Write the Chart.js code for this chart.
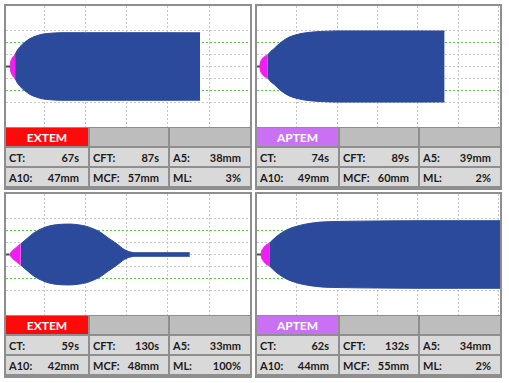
<!DOCTYPE html>
<html><head><meta charset="utf-8">
<script src="https://cdn.jsdelivr.net/npm/chart.js@4"></script>
<style>
html,body{margin:0;padding:0;background:#fff;width:509px;height:383px;overflow:hidden;font-family:Lato,"Open Sans",sans-serif;}
.panel{position:absolute;box-sizing:border-box;border:2px solid #8e8e8e;background:#8e8e8e;}
.plot{position:relative;background:#fff;height:121px;}
.tbl{display:grid;row-gap:2px;column-gap:2px;margin-top:1px;grid-template-rows:18px 18px 18px;}
.cell{background:#d9d9d9;display:flex;justify-content:space-between;align-items:center;padding:0 9px 0 3px;font-weight:700;font-size:11px;color:#1c1c1c;}
.hd{background:#bdbdbd;}
.name{justify-content:center;color:#fff;font-size:12px;padding:0;}
</style></head>
<body>
<script>
// ---------- data ----------
const panelNames = ["EXTEM", "APTEM", "EXTEM", "APTEM"];
const ctValues  = ["67s", "74s", "59s", "62s"];
const cftValues = ["87s", "89s", "130s", "132s"];
const a5Values  = ["38mm", "39mm", "33mm", "34mm"];
const a10Values = ["47mm", "49mm", "42mm", "44mm"];
const mcfValues = ["57mm", "60mm", "48mm", "55mm"];
const mlValues  = ["3%", "2%", "100%", "2%"];
const gridMinutes = [10, 20, 30, 40, 50, 60];
const gridAmplitudes = [-30, -20, -10, 0, 10, 20, 30];

// time in minutes, clot amplitude (full width) in mm
const extemTopTime = [1.7, 1.8, 2.0, 2.3, 2.9, 3.4, 4.1, 5.2, 6.5, 8.0, 9.5, 11.4, 14, 20, 30, 40, 47.8];
const extemTopAmp  = [0, 7, 11, 15.5, 20, 27, 33.5, 40.5, 47, 51.5, 54.5, 56, 57, 57, 57, 57, 56.8];
const extemTopCfEnd = 2.9;

const aptemTopTime = [0.9, 1.0, 1.3, 1.8, 2.9, 3.6, 4.4, 5.8, 7.7, 9.6, 11.8, 13.8, 15.9, 20, 30, 40, 46.6];
const aptemTopAmp  = [0, 6, 11, 15.5, 20, 25.5, 30, 39, 48, 53, 56.3, 58, 59, 60, 60, 60, 59.8];
const aptemTopCfEnd = 2.9;

const extemBotTime = [1.5, 2.2, 3.2, 4.3, 5.8, 7.35, 9.3, 11.4, 13.8, 16.2, 18.3, 20.3, 22, 23.5, 25.5, 27.6, 29.5, 31.3, 32.5, 45.3];
const extemBotAmp  = [0, 6, 12, 18, 27, 36, 43.5, 48.5, 50.8, 51.3, 50, 47.4, 43, 38, 28, 18, 8, 3.5, 3, 3];
const extemBotCfEnd = 4.3;

const aptemBotTime = [1.2, 1.3, 1.7, 2.3, 3.4, 4.3, 5.5, 7.7, 9.7, 11.8, 13.8, 15.9, 20, 30, 40, 50, 61];
const aptemBotAmp  = [0, 5, 10, 15, 20, 26, 33, 42, 47, 50.7, 53, 54.6, 55.7, 56.5, 57, 57, 57];
const aptemBotCfEnd = 3.4;

// ---------- styling / layout ----------
const BLUE = '#2c4a9b', MAG = '#f01ef0', BASE = '#3d5a3d';
const nameBg = {EXTEM: '#ff0a0a', APTEM: '#c970f5'};
const layout = [
  {left: 4, top: 4, w: 248, cols: '82px 78px 80px', xr: [0.7, 59.9]},
  {left: 255, top: 4, w: 247, cols: '81px 78px 80px', xr: [0.2, 60.3]},
  {left: 4, top: 192, w: 248, cols: '82px 78px 80px', xr: [0.7, 59.9]},
  {left: 255, top: 192, w: 247, cols: '81px 78px 80px', xr: [0.2, 60.3]}
];
const curves = [
  [extemTopTime, extemTopAmp, extemTopCfEnd],
  [aptemTopTime, aptemTopAmp, aptemTopCfEnd],
  [extemBotTime, extemBotAmp, extemBotCfEnd],
  [aptemBotTime, aptemBotAmp, aptemBotCfEnd]
];

function cell(label, value, cls) {
  const d = document.createElement('div');
  d.className = 'cell' + (cls ? ' ' + cls : '');
  if (label !== null) {
    const a = document.createElement('span'); a.textContent = label;
    const b = document.createElement('span'); b.textContent = value;
    d.appendChild(a); d.appendChild(b);
  }
  return d;
}

function makeChart(canvas, time, amp, cfEnd, xr) {
  const pts = time.map((t, i) => ({t: t, a: amp[i]}));
  const mag = pts.filter(p => p.t <= cfEnd);
  const blue = pts.filter(p => p.t >= cfEnd);
  const up = arr => arr.map(p => ({x: p.t, y: p.a / 2}));
  const dn = arr => arr.map(p => ({x: p.t, y: -p.a / 2}));
  const common = {pointRadius: 0, borderWidth: 1, cubicInterpolationMode: 'monotone'};
  new Chart(canvas, {
    type: 'line',
    data: {datasets: [
      Object.assign({}, common, {data: [{x: xr[0] - 1, y: 0}, {x: time[0], y: 0}], borderColor: BASE, borderWidth: 2, fill: false}),
      Object.assign({}, common, {data: up(mag), borderColor: MAG, backgroundColor: MAG, fill: '+1'}),
      Object.assign({}, common, {data: dn(mag), borderColor: MAG, fill: false}),
      Object.assign({}, common, {data: up(blue), borderColor: BLUE, backgroundColor: BLUE, fill: '+1'}),
      Object.assign({}, common, {data: dn(blue), borderColor: BLUE, fill: false})
    ]},
    options: {
      responsive: true, maintainAspectRatio: false, animation: false, devicePixelRatio: 1,
      layout: {padding: 0},
      plugins: {legend: {display: false}, tooltip: {enabled: false}},
      scales: {
        x: {type: 'linear', min: xr[0], max: xr[1],
            afterBuildTicks: s => { s.ticks = gridMinutes.map(v => ({value: v})); },
            ticks: {display: false},
            grid: {color: '#c4c4c4', lineWidth: 1, drawTicks: false},
            border: {display: false, dash: [2, 2]}},
        y: {type: 'linear', min: -51, max: 51,
            afterBuildTicks: s => { s.ticks = gridAmplitudes.map(v => ({value: v})); },
            ticks: {display: false},
            grid: {color: c => (Math.abs(c.tick.value) === 20 ? '#5cc84a' : '#c8c8c8'), lineWidth: 1, drawTicks: false},
            border: {display: false, dash: [2, 2]}}
      }
    }
  });
}

layout.forEach((L, i) => {
  const p = document.createElement('div');
  p.className = 'panel';
  p.style.left = L.left + 'px'; p.style.top = L.top + 'px';
  p.style.width = L.w + 'px'; p.style.height = '186px';
  const plot = document.createElement('div'); plot.className = 'plot';
  const cv = document.createElement('canvas'); plot.appendChild(cv);
  p.appendChild(plot);
  const t = document.createElement('div'); t.className = 'tbl';
  t.style.gridTemplateColumns = L.cols;
  const nm = document.createElement('div'); nm.className = 'cell name';
  nm.style.background = nameBg[panelNames[i]]; nm.textContent = panelNames[i];
  t.appendChild(nm);
  t.appendChild(cell(null, null, 'hd'));
  t.appendChild(cell(null, null, 'hd'));
  t.appendChild(cell('CT:', ctValues[i]));
  t.appendChild(cell('CFT:', cftValues[i]));
  t.appendChild(cell('A5:', a5Values[i]));
  t.appendChild(cell('A10:', a10Values[i]));
  t.appendChild(cell('MCF:', mcfValues[i]));
  t.appendChild(cell('ML:', mlValues[i]));
  p.appendChild(t);
  document.body.appendChild(p);
  const c = curves[i];
  makeChart(cv, c[0], c[1], c[2], L.xr);
});
</script>
</body></html>
